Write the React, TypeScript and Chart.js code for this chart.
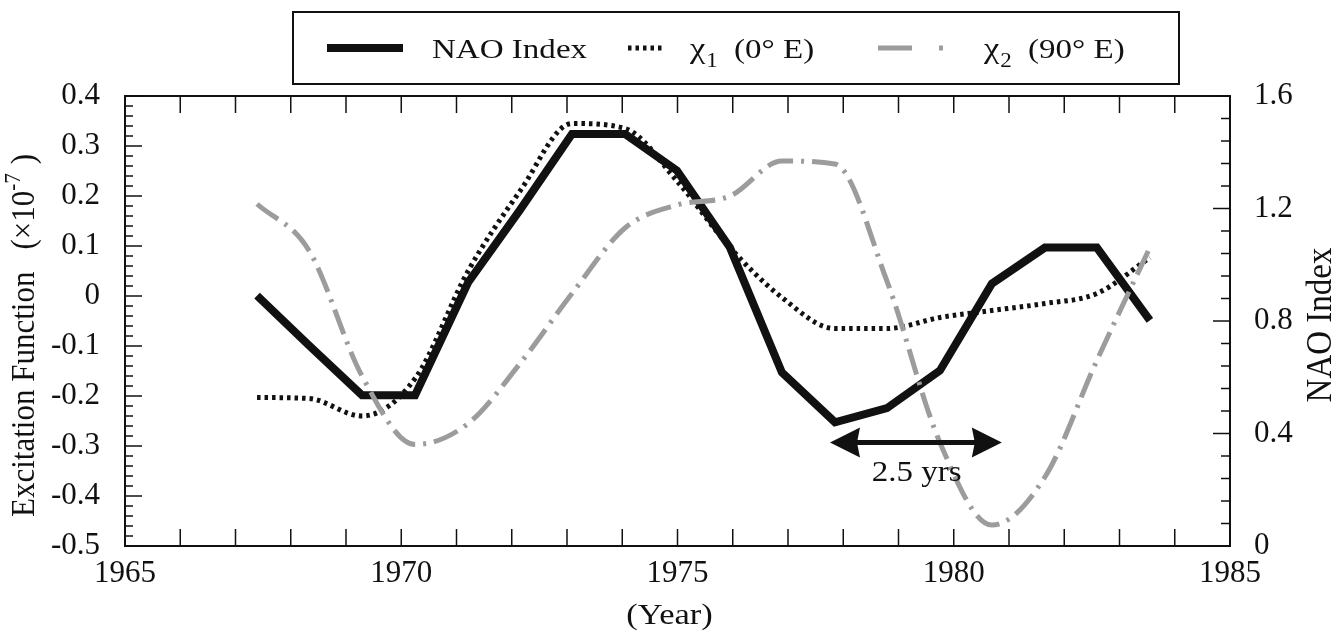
import React, { useEffect, useRef } from "react";
import { Chart, registerables } from "chart.js";

Chart.register(...registerables);

// ---------- data ----------
const years = [
  1967.39, 1968.33, 1969.29, 1970.25, 1971.21, 1972.15, 1973.09, 1974.05, 1974.99,
  1975.95, 1976.89, 1977.85, 1978.79, 1979.75, 1980.69, 1981.65, 1982.59, 1983.55,
];
// NAO Index (right axis)
const naoIndex = [
  0.89, 0.713, 0.536, 0.536, 0.937, 1.195, 1.465, 1.465, 1.335,
  1.061, 0.617, 0.44, 0.49, 0.624, 0.933, 1.061, 1.061, 0.802,
];
// chi_1 (0° E), excitation function x1e-7 (left axis)
const chi1 = [
  -0.203, -0.205, -0.24, -0.165, 0.05, 0.21, 0.345, 0.335, 0.23,
  0.097, -0.003, -0.065, -0.065, -0.043, -0.029, -0.015, 0.005, 0.077,
];
// chi_2 (90° E), excitation function x1e-7 (left axis)
const chi2 = [
  0.184, 0.091, -0.16, -0.297, -0.255, -0.135, 0.005, 0.136, 0.182,
  0.2, 0.27, 0.264, 0.03, -0.293, -0.458, -0.362, -0.129, 0.097,
];

const xRange = [1965, 1985];
const leftRange = [-0.5, 0.4];
const rightRange = [0, 1.6];
const legendNames = ["NAO Index", "χ", "1", "(0° E)", "χ", "2", "(90° E)"];
const arrowFromYear = 1977.76;
const arrowToYear = 1980.87;
const arrowLevel = -0.293;
const arrowText = "2.5 yrs";
const arrowTextYear = 1979.33;
const arrowTextLevel = -0.37;

const SERIF = '"Liberation Serif", "Times New Roman", Times, serif';
const INK = "#111111";
const GRAY = "#9c9c9c";

function sText(ctx: CanvasRenderingContext2D, text: string, x: number, y: number, size: number, sx: number, align: CanvasTextAlign = "left") {
  ctx.save();
  ctx.font = `${size}px ${SERIF}`;
  ctx.translate(x, y);
  ctx.scale(sx, 1);
  ctx.textAlign = align;
  ctx.textBaseline = "alphabetic";
  ctx.fillStyle = INK;
  ctx.fillText(text, 0, 0);
  const w = ctx.measureText(text).width * sx;
  ctx.restore();
  return w;
}

function seg(ctx: CanvasRenderingContext2D, x1: number, y1: number, x2: number, y2: number) {
  ctx.beginPath();
  ctx.moveTo(x1, y1);
  ctx.lineTo(x2, y2);
  ctx.stroke();
}

const decorPlugin = {
  id: "decor",
  afterDraw(chart: any) {
    const { ctx, chartArea: a, scales } = chart;
    const sx = scales.x;
    const sl = scales.y;
    const sr = scales.y1;
    ctx.save();
    // frame
    ctx.strokeStyle = INK;
    ctx.lineWidth = 2;
    ctx.setLineDash([]);
    ctx.strokeRect(a.left, a.top, a.right - a.left, a.bottom - a.top);

    // inward ticks
    ctx.lineWidth = 1.5;
    for (let yr = xRange[0]; yr <= xRange[1]; yr++) {
      const px = sx.getPixelForValue(yr);
      seg(ctx, px, a.bottom, px, a.bottom - 17);
      seg(ctx, px, a.top, px, a.top + 17);
    }
    for (let i = 0; i <= 45; i++) {
      const py = sl.getPixelForValue(leftRange[0] + i * 0.02);
      seg(ctx, a.left, py, a.left + (i % 5 === 0 ? 17 : 8), py);
    }
    for (let i = 0; i <= 20; i++) {
      const py = sr.getPixelForValue(rightRange[0] + i * 0.08);
      seg(ctx, a.right, py, a.right - (i % 5 === 0 ? 17 : 9), py);
    }

    // arrow annotation
    const ax1 = sx.getPixelForValue(arrowFromYear);
    const ax2 = sx.getPixelForValue(arrowToYear);
    const ay = sl.getPixelForValue(arrowLevel);
    ctx.fillStyle = INK;
    ctx.fillRect(ax1 + 20, ay - 2.5, ax2 - ax1 - 40, 5);
    ctx.beginPath();
    ctx.moveTo(ax1, ay);
    ctx.lineTo(ax1 + 30, ay - 15);
    ctx.lineTo(ax1 + 27, ay);
    ctx.lineTo(ax1 + 30, ay + 15);
    ctx.closePath();
    ctx.fill();
    ctx.beginPath();
    ctx.moveTo(ax2, ay);
    ctx.lineTo(ax2 - 30, ay - 15);
    ctx.lineTo(ax2 - 27, ay);
    ctx.lineTo(ax2 - 30, ay + 15);
    ctx.closePath();
    ctx.fill();
    sText(ctx, arrowText, sx.getPixelForValue(arrowTextYear), sl.getPixelForValue(arrowTextLevel), 30, 1.1, "center");

    // legend box
    ctx.lineWidth = 2;
    ctx.strokeStyle = INK;
    ctx.strokeRect(293, 12, 886, 72);
    const ly = 48;
    const ds = chart.data.datasets;
    // NAO sample
    ctx.strokeStyle = ds[2].borderColor;
    ctx.lineWidth = ds[2].borderWidth;
    ctx.setLineDash([]);
    seg(ctx, 327, ly, 403, ly);
    // chi1 sample
    ctx.strokeStyle = ds[1].borderColor;
    ctx.lineWidth = ds[1].borderWidth;
    ctx.setLineDash(ds[1].borderDash);
    seg(ctx, 628, ly, 662, ly);
    // chi2 sample
    ctx.strokeStyle = ds[0].borderColor;
    ctx.lineWidth = ds[0].borderWidth;
    ctx.setLineDash([34, 27, 4, 40]);
    seg(ctx, 878, ly, 945, ly);
    ctx.setLineDash([]);

    sText(ctx, legendNames[0], 432, 58, 28, 1.18);
    let w = sText(ctx, legendNames[1], 690, 58, 30, 1.15);
    sText(ctx, legendNames[2], 690 + w + 1, 67, 20, 1.15);
    sText(ctx, legendNames[3], 734, 58, 28, 1.18);
    w = sText(ctx, legendNames[4], 984, 58, 30, 1.15);
    sText(ctx, legendNames[5], 984 + w + 1, 67, 20, 1.15);
    sText(ctx, legendNames[6], 1028, 58, 28, 1.18);

    // x title
    sText(ctx, "(Year)", (a.left + a.right) / 2 - 8, 624, 30, 1.15, "center");

    // left title (rotated)
    ctx.save();
    ctx.translate(34, 517);
    ctx.rotate(-Math.PI / 2);
    ctx.scale(1, 1.1);
    ctx.fillStyle = INK;
    ctx.textBaseline = "alphabetic";
    ctx.textAlign = "left";
    ctx.font = `31px ${SERIF}`;
    let u = 0;
    ctx.fillText("Excitation Function", u, 0);
    u += ctx.measureText("Excitation Function").width + 22;
    ctx.fillText("(×10", u, 0);
    u += ctx.measureText("(×10").width;
    ctx.font = `21px ${SERIF}`;
    ctx.fillText("-7", u, -13);
    u += ctx.measureText("-7").width + 9;
    ctx.font = `31px ${SERIF}`;
    ctx.fillText(")", u, 0);
    ctx.restore();

    // right title (rotated)
    ctx.save();
    ctx.translate(1331, 325);
    ctx.rotate(-Math.PI / 2);
    ctx.scale(1, 1.1);
    ctx.fillStyle = INK;
    ctx.font = `33px ${SERIF}`;
    ctx.textAlign = "center";
    ctx.textBaseline = "alphabetic";
    ctx.fillText("NAO Index", 0, 0);
    ctx.restore();

    ctx.restore();
  },
};

function fmt(v: number) {
  return Math.abs(v) < 1e-9 ? "0" : Number(v).toFixed(1);
}

export default function App() {
  const ref = useRef<HTMLCanvasElement | null>(null);
  useEffect(() => {
    if (!ref.current) return;
    const pts = (vals: number[]) => years.map((x, i) => ({ x, y: vals[i] }));
    const tickFont = { family: SERIF, size: 31 };
    const chart = new Chart(ref.current, {
      type: "line",
      data: {
        datasets: [
          {
            label: "χ2 (90° E)",
            data: pts(chi2),
            yAxisID: "y",
            borderColor: GRAY,
            borderWidth: 5,
            borderDash: [26, 8, 3, 8],
            pointRadius: 0,
            cubicInterpolationMode: "monotone",
            fill: false,
          },
          {
            label: "χ1 (0° E)",
            data: pts(chi1),
            yAxisID: "y",
            borderColor: INK,
            borderWidth: 5,
            borderDash: [3.5, 4],
            pointRadius: 0,
            cubicInterpolationMode: "monotone",
            fill: false,
          },
          {
            label: "NAO Index",
            data: pts(naoIndex),
            yAxisID: "y1",
            borderColor: INK,
            borderWidth: 8,
            borderJoinStyle: "miter",
            pointRadius: 0,
            tension: 0,
            fill: false,
          },
        ],
      } as any,
      options: {
        animation: false,
        responsive: false,
        devicePixelRatio: 1,
        events: [],
        layout: { padding: { top: 96, left: 0, right: 0, bottom: 0 } },
        plugins: { legend: { display: false }, tooltip: { enabled: false } },
        scales: {
          x: {
            type: "linear",
            min: xRange[0],
            max: xRange[1],
            grid: { display: false, drawTicks: false },
            border: { display: false },
            ticks: { stepSize: 5, font: tickFont, color: INK, padding: 9, callback: (v: any) => String(v), maxRotation: 0 },
            afterFit: (s: any) => { s.height = 89; },
          },
          y: {
            type: "linear",
            position: "left",
            min: leftRange[0],
            max: leftRange[1],
            grid: { display: false, drawTicks: false },
            border: { display: false },
            ticks: { stepSize: 0.1, font: tickFont, color: INK, padding: 25, callback: (v: any) => fmt(v) },
            afterFit: (s: any) => { s.width = 125; },
          },
          y1: {
            type: "linear",
            position: "right",
            min: rightRange[0],
            max: rightRange[1],
            grid: { display: false, drawTicks: false },
            border: { display: false },
            ticks: { stepSize: 0.4, font: tickFont, color: INK, padding: 24, callback: (v: any) => fmt(v) },
            afterFit: (s: any) => { s.width = 113; },
          },
        },
      } as any,
      plugins: [decorPlugin],
    });
    return () => chart.destroy();
  }, []);
  return (
    <div style={{ position: "absolute", left: 0, top: 0, width: 1343, height: 635, background: "#fff" }}>
      <canvas ref={ref} width={1343} height={635} style={{ display: "block" }} />
    </div>
  );
}
